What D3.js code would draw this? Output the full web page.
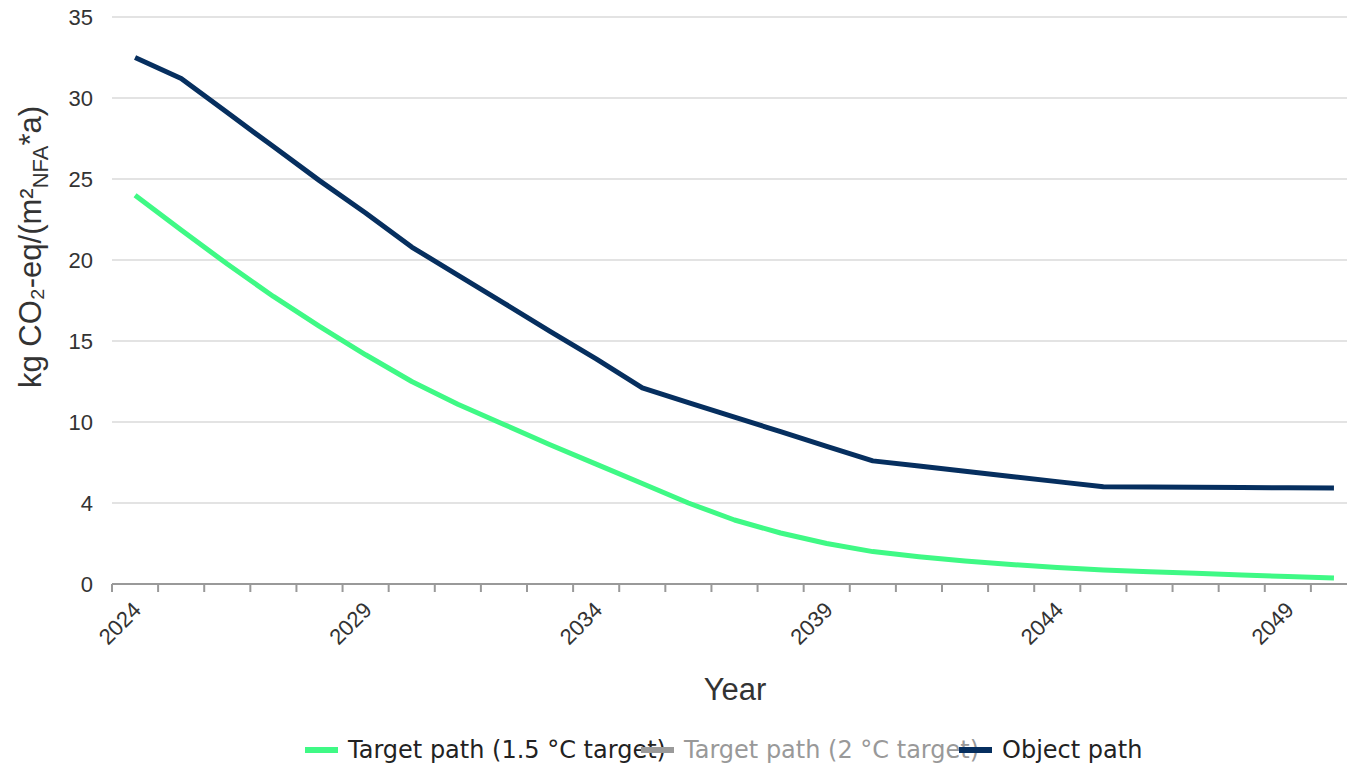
<!DOCTYPE html>
<html><head><meta charset="utf-8">
<script src="https://cdn.jsdelivr.net/npm/d3@7"></script>
<style>
html,body{margin:0;padding:0;background:#fff;}
svg{display:block;font-family:"Liberation Sans",Arial,sans-serif;}
</style></head>
<body>
<svg id="chart" width="1347" height="769"></svg>
<script>
const years = d3.range(2024, 2051);
const target15 = [24.0, 21.85, 19.75, 17.75, 15.9, 14.15, 12.5, 11.1, 9.85, 8.6, 7.4, 6.2, 5.0, 3.95, 3.15, 2.5, 2.0, 1.68, 1.42, 1.2, 1.02, 0.86, 0.76, 0.66, 0.56, 0.46, 0.37];
const objectPath = [32.5, 31.2, 29.1, 27.0, 24.9, 22.9, 20.8, 19.07, 17.34, 15.6, 13.9, 12.1, 11.2, 10.3, 9.4, 8.5, 7.6, 7.28, 6.96, 6.64, 6.32, 6.0, 5.99, 5.97, 5.96, 5.94, 5.93];
const yTickValues = [0, 5, 10, 15, 20, 25, 30, 35];
const yTickLabels = ["0", "4", "10", "15", "20", "25", "30", "35"];
const xTickLabels = ["2024", "2029", "2034", "2039", "2044", "2049"];
const legendItems = ["Target path (1.5 °C target)", "Target path (2 °C target)", "Object path"];
const legendColors = ["#3ff985", "#9a9a9a", "#062f5f"];
const legendHidden = [false, true, false];

const svg = d3.select("#chart");
const mLeft = 112, mRight = 1357, mTop = 17, mBottom = 584;

const x = d3.scaleBand().domain(years).range([mLeft, mRight]).padding(0);
const y = d3.scaleLinear().domain([0, 35]).range([mBottom, mTop]);
const cx = d => x(d) + x.bandwidth() / 2;

// gridlines
svg.append("g").selectAll("line").data(yTickValues.filter(v => v > 0)).join("line")
  .attr("x1", mLeft).attr("x2", 1347)
  .attr("y1", d => y(d)).attr("y2", d => y(d))
  .attr("stroke", "#e3e3e3").attr("stroke-width", 2);

// y tick labels
const yLabel = d3.scaleOrdinal().domain(yTickValues).range(yTickLabels);
const yAxis = d3.axisLeft(y).tickValues(yTickValues).tickSize(0).tickPadding(0).tickFormat(d => yLabel(d));
const gy = svg.append("g").attr("transform", `translate(${mLeft - 19},0)`).call(yAxis);
gy.select(".domain").remove();
gy.selectAll("text").attr("font-size", 22).attr("fill", "#333").attr("font-family", "Liberation Sans, Arial, sans-serif");

// x axis
const gx = svg.append("g").attr("transform", `translate(0,${mBottom})`);
gx.append("line").attr("x1", mLeft).attr("x2", 1347).attr("y1", 0).attr("y2", 0)
  .attr("stroke", "#999").attr("stroke-width", 2);
const boundaries = years.map(d => x(d));
gx.selectAll("line.tick").data(boundaries).join("line").attr("class", "tick")
  .attr("x1", d => d).attr("x2", d => d).attr("y1", 0).attr("y2", 8)
  .attr("stroke", "#999").attr("stroke-width", 2);
gx.selectAll("text").data(xTickLabels).join("text")
  .attr("transform", d => `translate(${cx(+d) + 2},${22}) rotate(-45)`)
  .attr("text-anchor", "end").attr("dy", "0.35em")
  .attr("font-size", 22).attr("fill", "#333")
  .text(d => d);

// axis titles
svg.append("text").attr("x", 735).attr("y", 700).attr("text-anchor", "middle")
  .attr("font-size", 31).attr("fill", "#333").text("Year");
const yt = svg.append("text").attr("transform", "translate(41,247) rotate(-90)")
  .attr("text-anchor", "middle").attr("font-size", 31).attr("fill", "#333");
yt.append("tspan").text("kg CO₂-eq/(m²");
yt.append("tspan").attr("font-size", 22).attr("dy", 7).text("NFA");
yt.append("tspan").attr("dy", -7).text("*a)");

// lines
const line = d3.line().x((d, i) => cx(years[i])).y(d => y(d)).curve(d3.curveLinear);
svg.append("path").datum(target15).attr("d", line).attr("fill", "none")
  .attr("stroke", legendColors[0]).attr("stroke-width", 5).attr("stroke-linejoin", "round");
svg.append("path").datum(objectPath).attr("d", line).attr("fill", "none")
  .attr("stroke", legendColors[2]).attr("stroke-width", 5).attr("stroke-linejoin", "round");

// legend
const legendX = [305, 641, 959];
const lg = svg.append("g").attr("transform", "translate(0,750)");
legendItems.forEach((t, i) => {
  lg.append("rect").attr("x", legendX[i]).attr("y", -3).attr("width", 33).attr("height", 6)
    .attr("fill", legendColors[i]);
  lg.append("text").attr("x", legendX[i] + 43).attr("y", 0).attr("dy", "0.35em")
    .attr("font-family", "DejaVu Sans, sans-serif").attr("font-size", 24)
    .attr("fill", legendHidden[i] ? "#999" : "#222").text(t);
});
</script>
</body></html>
